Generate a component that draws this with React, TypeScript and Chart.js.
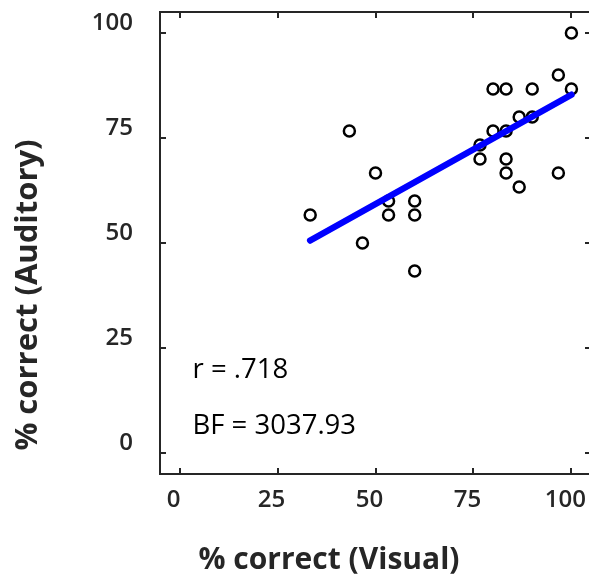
import React, { useEffect, useRef } from "react";
import { Chart, registerables } from "chart.js";

Chart.register(...registerables);

// Data: % correct per participant
const visualScores = [
  100, 96.67, 80, 83.33, 90, 100, 86.67, 90, 43.33, 80, 83.33, 76.67, 76.67,
  83.33, 50, 83.33, 96.67, 86.67, 53.33, 60, 33.33, 53.33, 60, 46.67, 60,
];
const auditoryScores = [
  100, 90, 86.67, 86.67, 86.67, 86.67, 80, 80, 76.67, 76.67, 76.67, 73.33, 70,
  70, 66.67, 66.67, 66.67, 63.33, 60, 60, 56.67, 56.67, 56.67, 50, 43.33,
];
// Regression line end points
const fitVisual = [33.33, 100];
const fitAuditory = [50.6, 85.3];

const xTicks = [0, 25, 50, 75, 100];
const yTicks = [0, 25, 50, 75, 100];
const xTickLabels = ["0", "25", "50", "75", "100"];
const yTickLabels = ["0", "25", "50", "75", "100"];

const xTitle = "% correct (Visual)";
const yTitle = "% correct (Auditory)";
const annotations = [
  { text: "r = .718", x: 3.3, y: 19.8 },
  { text: "BF = 3037.93", x: 3.3, y: 6.3 },
];

const AX_COLOR = "#262626";
const FONT = "'Open Sans', 'Noto Sans', sans-serif";

const decorPlugin = {
  id: "decor",
  afterDraw(chart: any) {
    const { ctx, chartArea } = chart;
    const xs = chart.scales.x;
    const ys = chart.scales.y;
    const { left, right, top, bottom } = chartArea;
    ctx.save();
    // box
    ctx.strokeStyle = AX_COLOR;
    ctx.lineWidth = 2;
    ctx.beginPath();
    ctx.rect(left, top, right - left, bottom - top);
    ctx.stroke();
    // inward ticks
    const tl = 6;
    ctx.beginPath();
    xTicks.forEach((v) => {
      const px = Math.round(xs.getPixelForValue(v));
      ctx.moveTo(px, bottom);
      ctx.lineTo(px, bottom - tl);
      ctx.moveTo(px, top);
      ctx.lineTo(px, top + tl);
    });
    yTicks.forEach((v) => {
      const py = Math.round(ys.getPixelForValue(v));
      ctx.moveTo(left, py);
      ctx.lineTo(left + tl, py);
      ctx.moveTo(right, py);
      ctx.lineTo(right - tl, py);
    });
    ctx.stroke();

    // tick labels
    ctx.fillStyle = AX_COLOR;
    ctx.font = `600 24px ${FONT}`;
    ctx.textBaseline = "middle";
    ctx.textAlign = "center";
    xTicks.forEach((v, i) => {
      ctx.fillText(xTickLabels[i], xs.getPixelForValue(v) - 6, 500);
    });
    ctx.textAlign = "right";
    yTicks.forEach((v, i) => {
      ctx.fillText(yTickLabels[i], 133, ys.getPixelForValue(v) - 10);
    });

    // axis titles
    ctx.font = `bold 30px ${FONT}`;
    ctx.textAlign = "center";
    ctx.fillText(xTitle, 329, 560);
    ctx.save();
    ctx.translate(28, 295);
    ctx.rotate(-Math.PI / 2);
    ctx.font = `bold 31px ${FONT}`;
    ctx.fillText(yTitle, 0, 0);
    ctx.restore();

    // annotations
    ctx.font = `400 27.5px ${FONT}`;
    ctx.textAlign = "left";
    ctx.fillStyle = "#000";
    annotations.forEach((a) => {
      ctx.fillText(a.text, xs.getPixelForValue(a.x), ys.getPixelForValue(a.y));
    });
    ctx.restore();
  },
};

export default function App() {
  const ref = useRef<HTMLCanvasElement>(null);
  useEffect(() => {
    if (!ref.current) return;
    const chart = new Chart(ref.current, {
      type: "scatter",
      data: {
        datasets: [
          {
            label: "fit",
            data: fitVisual.map((x, i) => ({ x, y: fitAuditory[i] })),
            showLine: true,
            borderColor: "#0000ff",
            borderWidth: 6.5,
            borderCapStyle: "round",
            pointRadius: 0,
            order: 0,
          } as any,
          {
            label: "participants",
            data: visualScores.map((x, i) => ({ x, y: auditoryScores[i] })),
            pointStyle: "circle",
            pointRadius: 5.5,
            pointBorderWidth: 2.5,
            pointBorderColor: "#000",
            pointBackgroundColor: "rgba(0,0,0,0)",
            borderColor: "#000",
            backgroundColor: "rgba(0,0,0,0)",
            order: 1,
          } as any,
        ],
      },
      options: {
        animation: false,
        responsive: false,
        layout: { padding: { left: 160, top: 12, right: 9, bottom: 106 } },
        plugins: { legend: { display: false }, tooltip: { enabled: false } },
        scales: {
          x: { type: "linear", min: -5, max: 105, display: false },
          y: { type: "linear", min: -5, max: 105, display: false },
        },
      },
      plugins: [decorPlugin],
    });
    return () => chart.destroy();
  }, []);
  return (
    <div
      style={{
        position: "fixed",
        left: 0,
        top: 0,
        width: 589,
        height: 580,
        overflow: "hidden",
        background: "#fff",
      }}
    >
      <canvas ref={ref} width={600} height={580} style={{ width: 600, height: 580, display: "block" }} />
    </div>
  );
}
